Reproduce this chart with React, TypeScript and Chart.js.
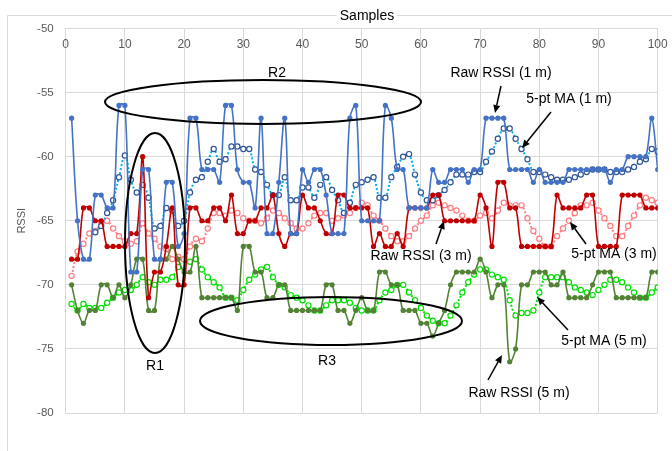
import { useEffect, useRef } from "react";
import { Chart, registerables } from "chart.js";

Chart.register(...registerables);

// ---------- data ----------
const samples: number[] = Array.from({ length: 100 }, (_, i) => i + 1);
const xTicks = [0, 10, 20, 30, 40, 50, 60, 70, 80, 90, 100];
const yTicks = [-50, -55, -60, -65, -70, -75, -80];

const raw1m = [
  -57, -65, -68, -68, -63, -63, -64, -64, -56, -56,
  -69, -69, -61, -61, -68, -68, -62, -62, -67, -66,
  -57, -57, -61, -61, -61, -62, -56, -56, -61, -62,
  -62, -64, -57, -66, -66, -62, -57, -66, -66, -61,
  -62, -61, -61, -63, -66, -66, -66, -57, -56, -65,
  -65, -65, -65, -56, -57, -61, -61, -64, -64, -64,
  -64, -61, -62, -62, -61, -61, -61, -62, -61, -61,
  -57, -57, -57, -57, -61, -61, -61, -61, -62, -61,
  -62, -62, -62, -62, -61, -61, -61, -61, -61, -61,
  -61, -62, -61, -61, -60, -60, -60, -60, -57, -61,
];
const ma1m = [
  null, null, null, null, -65.9, -65.4, -64.4, -63.4, -61.6, -59.9,
  -61.8, -62.8, -62.2, -63.2, -65.6, -65.4, -64, -64.2, -65.4, -65,
  -62.8, -61.8, -61.6, -60.4, -59.4, -60.4, -60.2, -59.2, -59.2, -59.4,
  -59.4, -61, -61.2, -62.2, -63, -63, -61.6, -63.4, -63.4, -62.4,
  -62.4, -63.2, -62.2, -61.6, -62.6, -63.4, -64.4, -63.6, -62.2, -62,
  -61.8, -61.6, -63.2, -63.2, -61.6, -60.8, -60, -59.8, -61.4, -62.8,
  -63.4, -63.4, -63, -62.6, -62, -61.4, -61.4, -61.4, -61.2, -61.2,
  -60.4, -59.6, -58.6, -57.8, -57.8, -58.6, -59.4, -60.2, -61.2, -61.2,
  -61.4, -61.6, -61.8, -61.8, -61.8, -61.6, -61.4, -61.2, -61, -61,
  -61, -61.2, -61.2, -61.2, -61, -60.8, -60.4, -60.2, -59.4, -59.6,
];
const raw3m = [
  -68, -68, -64, -64, -65, -65, -67, -67, -67, -67,
  -66, -66, -60, -71, -69, -69, -67, -64, -70, -70,
  -64, -64, -65, -65, -64, -64, -65, -63, -66, -66,
  -65, -65, -64, -64, -63, -66, -67, -66, -66, -63,
  -64, -64, -65, -66, -66, -63, -63, -64, -64, -64,
  -64, -67, -66, -67, -67, -66, -67, -64, -64, -64,
  -64, -63, -63, -65, -65, -65, -65, -65, -65, -63,
  -64, -67, -62, -62, -64, -64, -67, -67, -67, -67,
  -67, -67, -63, -64, -64, -64, -64, -63, -63, -67,
  -67, -67, -67, -63, -63, -63, -63, -64, -64, -64,
];
const ma3m = [
  -69.3, -67.4, -66.8, -66, -65.8, -65.2, -65, -65.6, -66.2, -66.6,
  -66.8, -66.6, -65.2, -66, -66.4, -67, -67.2, -68, -67.8, -68,
  -67, -66.4, -66.6, -65.6, -64.4, -64.4, -64.6, -64.2, -64.4, -64.8,
  -65, -65, -65.2, -64.8, -64.2, -64.4, -64.8, -65.2, -65.6, -65.6,
  -65.2, -64.6, -64.4, -64.4, -65, -64.8, -64.6, -64.4, -64, -63.6,
  -63.8, -64.6, -65, -65.6, -66.2, -66.6, -66.6, -66.2, -65.6, -65,
  -64.6, -63.8, -63.6, -63.8, -64, -64.2, -64.6, -65, -65, -64.6,
  -64.4, -64.8, -64.2, -63.6, -63.8, -63.8, -63.8, -64.8, -65.8, -66.4,
  -67, -67, -66.2, -65.6, -65, -64.4, -63.8, -63.8, -63.6, -64.2,
  -64.8, -65.4, -66.2, -66.2, -65.4, -64.6, -63.8, -63.2, -63.4, -63.6,
];
const raw5m = [
  -70, -72, -73, -72, -72, -70, -70, -71, -70, -71,
  -70, -68, -68, -72, -72, -68, -68, -67, -68, -69,
  -69, -67, -71, -71, -71, -71, -71, -71, -72, -67,
  -67, -69, -69, -71, -71, -70, -70, -72, -72, -72,
  -72, -72, -72, -70, -70, -72, -72, -73, -72, -71,
  -72, -72, -69, -69, -70, -70, -72, -72, -72, -73,
  -73, -74, -73, -72, -70, -69, -69, -69, -69, -68,
  -69, -71, -70, -70, -76, -75, -70, -70, -69, -69,
  -69, -70, -70, -69, -71, -71, -71, -71, -70, -69,
  -69, -69, -71, -71, -71, -71, -71, -71, -69, -69,
];
const ma5m = [
  -71.5, -72, -71.5, -71.8, -71.8, -71.8, -71.4, -71, -70.6, -70.4,
  -70.4, -70, -69.4, -69.8, -70, -69.6, -69.6, -69.4, -68.6, -68,
  -68.2, -68, -68.8, -69.4, -69.8, -70.2, -71, -71, -71.2, -70.4,
  -69.6, -69.2, -68.8, -68.6, -69.4, -70, -70.2, -70.8, -71, -71.2,
  -71.6, -72, -72, -71.6, -71.2, -71.2, -71.2, -71.4, -71.8, -72,
  -72, -72, -71.2, -70.6, -70.4, -70, -70, -70.6, -71.2, -71.8,
  -72.4, -72.8, -73, -73, -72.4, -71.6, -70.6, -69.8, -69.2, -68.8,
  -68.8, -69.2, -69.4, -69.6, -71.2, -72.4, -72.2, -72.2, -72, -70.6,
  -69.4, -69.4, -69.4, -69.4, -69.8, -70.2, -70.4, -70.6, -70.8, -70.4,
  -70, -69.6, -69.6, -69.8, -70.2, -70.6, -71, -71, -70.6, -70.2,
];

const FONT = "'Liberation Sans', Arial, sans-serif";

const pts = (vals: (number | null)[]) => samples.map((s, i) => ({ x: s, y: vals[i] }));

function rawSet(label: string, vals: number[], color: string) {
  return {
    label,
    data: pts(vals),
    borderColor: color,
    backgroundColor: color,
    borderWidth: 1.6,
    pointRadius: 2.6,
    pointBackgroundColor: color,
    pointBorderColor: color,
    pointBorderWidth: 0,
    tension: 0.35,
  };
}
function maSet(label: string, vals: (number | null)[], line: string, marker: string) {
  return {
    label,
    data: pts(vals),
    borderColor: line,
    backgroundColor: "#ffffff",
    borderWidth: 2,
    borderDash: [2, 2],
    pointRadius: 2.6,
    pointBackgroundColor: "#ffffff",
    pointBorderColor: marker,
    pointBorderWidth: 1.2,
    tension: 0.35,
  };
}

function arrow(ctx: CanvasRenderingContext2D, x1: number, y1: number, x2: number, y2: number) {
  const a = Math.atan2(y2 - y1, x2 - x1);
  const L = 8;
  const W = 3.5;
  const bx = x2 - L * Math.cos(a);
  const by = y2 - L * Math.sin(a);
  ctx.beginPath();
  ctx.moveTo(x1, y1);
  ctx.lineTo(bx, by);
  ctx.stroke();
  ctx.beginPath();
  ctx.moveTo(x2, y2);
  ctx.lineTo(bx + W * Math.sin(a), by - W * Math.cos(a));
  ctx.lineTo(bx - W * Math.sin(a), by + W * Math.cos(a));
  ctx.closePath();
  ctx.fill();
}

const decorPlugin = {
  id: "decor",
  afterDraw(chart: any) {
    const ctx: CanvasRenderingContext2D = chart.ctx;
    const xs = chart.scales.x;
    ctx.save();
    // outer frame
    ctx.strokeStyle = "#d9d9d9";
    ctx.lineWidth = 1;
    ctx.beginPath();
    ctx.moveTo(7.5, 451);
    ctx.lineTo(7.5, 15.5);
    ctx.lineTo(672, 15.5);
    ctx.stroke();

    // x tick labels (inside plot, below the top axis)
    ctx.fillStyle = "#595959";
    ctx.font = `12px ${FONT}`;
    ctx.textAlign = "center";
    ctx.textBaseline = "middle";
    xTicks.forEach((t) => ctx.fillText(String(t), xs.getPixelForValue(t), 45));

    // axis title "Samples"
    ctx.font = `14px ${FONT}`;
    const tw = ctx.measureText("Samples").width;
    ctx.fillStyle = "#ffffff";
    ctx.fillRect(367 - tw / 2 - 3, 8, tw + 6, 16);
    ctx.fillStyle = "#000000";
    ctx.fillText("Samples", 367, 16);

    // ellipses
    ctx.strokeStyle = "#000000";
    ctx.lineWidth = 2;
    ctx.beginPath();
    ctx.ellipse(263, 102, 158, 22, 0, 0, Math.PI * 2);
    ctx.stroke();
    ctx.beginPath();
    ctx.ellipse(155, 243, 30, 110, 0, 0, Math.PI * 2);
    ctx.stroke();
    ctx.beginPath();
    ctx.ellipse(331, 321, 131, 24, 0, 0, Math.PI * 2);
    ctx.stroke();

    // arrows
    ctx.lineWidth = 1.5;
    ctx.fillStyle = "#000000";
    arrow(ctx, 501, 86, 495, 113);
    arrow(ctx, 551, 112, 522, 148);
    arrow(ctx, 436, 244, 444, 221);
    arrow(ctx, 586, 244, 570, 222);
    arrow(ctx, 568, 330, 537, 297);
    arrow(ctx, 488, 380, 502, 355);

    // labels
    ctx.fillStyle = "#000000";
    ctx.font = `14px ${FONT}`;
    ctx.textAlign = "center";
    ctx.textBaseline = "middle";
    ctx.fillText("R2", 277, 73);
    ctx.fillText("R1", 155, 366);
    ctx.fillText("R3", 327, 361);
    ctx.fillText("Raw RSSI (1 m)", 501, 73);
    ctx.fillText("5-pt MA (1 m)", 569, 99);
    ctx.fillText("Raw RSSI (3 m)", 421, 256);
    ctx.fillText("5-pt MA (3 m)", 614, 254);
    ctx.fillText("5-pt MA (5 m)", 604, 341);
    ctx.fillText("Raw RSSI (5 m)", 519, 393);
    ctx.restore();
  },
};

export default function App() {
  const ref = useRef<HTMLCanvasElement | null>(null);
  useEffect(() => {
    if (!ref.current) return;
    const chart = new Chart(ref.current, {
      type: "line",
      data: {
        datasets: [
          rawSet("Raw RSSI (1 m)", raw1m, "#4472C4"),
          rawSet("Raw RSSI (3 m)", raw3m, "#C00000"),
          rawSet("Raw RSSI (5 m)", raw5m, "#548235"),
          maSet("5-pt MA (1 m)", ma1m, "#00B0F0", "#2F5597"),
          maSet("5-pt MA (3 m)", ma3m, "#FF7C80", "#FF7C80"),
          maSet("5-pt MA (5 m)", ma5m, "#00E000", "#00E000"),
        ] as any,
      },
      options: {
        responsive: false,
        animation: false,
        parsing: true,
        layout: { padding: { left: 8, top: 28.5, right: 14.3, bottom: 38 } },
        plugins: {
          legend: { display: false },
          tooltip: { enabled: false },
        },
        scales: {
          x: {
            type: "linear",
            position: "top",
            min: 0,
            max: 100,
            ticks: { display: false, stepSize: 10 },
            grid: { color: "#d9d9d9", drawTicks: false },
            border: { color: "#d9d9d9" },
          },
          y: {
            type: "linear",
            min: -80,
            max: -50,
            afterBuildTicks: (scale: any) => {
              scale.ticks = yTicks.map((v) => ({ value: v }));
            },
            afterFit: (scale: any) => {
              scale.width = 57.7;
            },
            ticks: {
              color: "#595959",
              font: { family: FONT, size: 11.5 },
              padding: 12,
            },
            grid: { color: "#d9d9d9", drawTicks: false },
            border: { color: "#d9d9d9" },
            title: {
              display: true,
              text: "RSSI",
              color: "#595959",
              font: { family: FONT, size: 11 },
              padding: { top: 7, bottom: 0 },
            },
          },
        },
      },
      plugins: [decorPlugin],
    });
    return () => chart.destroy();
  }, []);
  return (
    <div style={{ position: "fixed", left: 0, top: 0, width: 672, height: 451, background: "#ffffff" }}>
      <canvas ref={ref} width={672} height={451} style={{ display: "block" }} />
    </div>
  );
}
